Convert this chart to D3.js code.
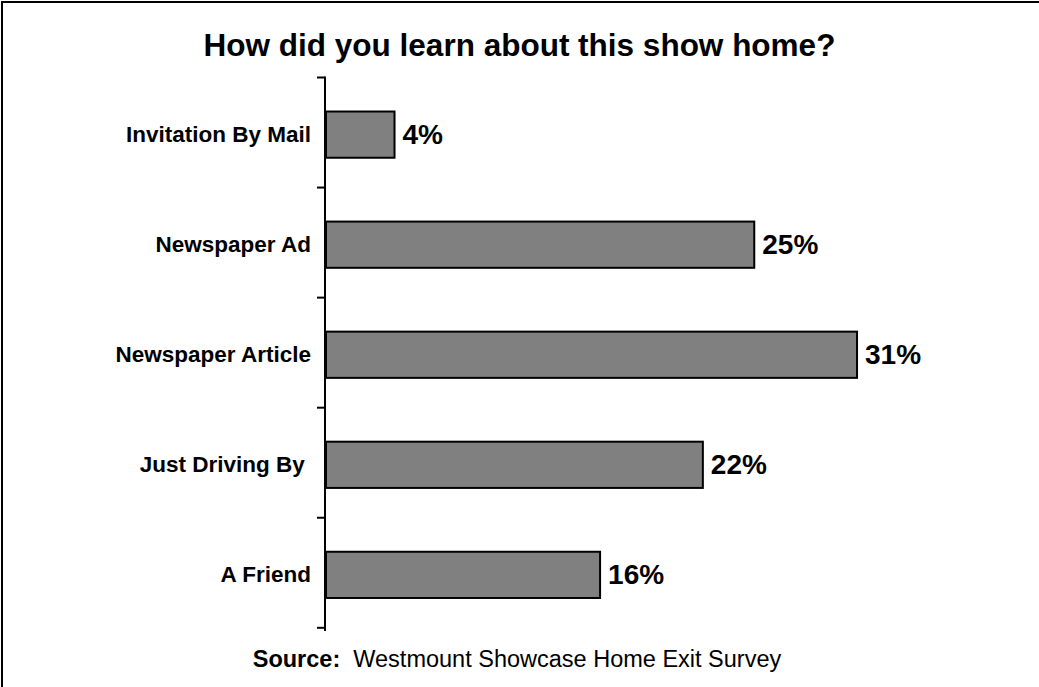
<!DOCTYPE html>
<html>
<head>
<meta charset="utf-8">
<script src="https://cdn.jsdelivr.net/npm/d3@7"></script>
<style>
  html, body { margin: 0; padding: 0; background: #fff; }
  svg { display: block; font-family: Arial, "Liberation Sans", sans-serif; }
  .tick text { white-space: pre; }
</style>
</head>
<body>
<svg id="chart" width="1039" height="687"></svg>
<script>
// Survey answers, top to bottom
const categories = ["Invitation By Mail", "Newspaper Ad", "Newspaper Article", "Just Driving By ", "A Friend"];
const values = [4, 25, 31, 22, 16];
const valueLabels = ["4%", "25%", "31%", "22%", "16%"];

const titleText = "How did you learn about this show home?";
const sourceLead = "Source:";
const sourceText = "Westmount Showcase Home Exit Survey";

const W = 1039, H = 687;
const svg = d3.select("#chart");

// frame around the whole chart
svg.append("rect")
  .attr("x", 2).attr("y", 2)
  .attr("width", W + 20).attr("height", H + 20)
  .attr("fill", "none").attr("stroke", "#000").attr("stroke-width", 2);

const axisX = 325;
const plotTop = 77.5, plotBottom = 630;

const y = d3.scaleBand()
  .domain(categories)
  .range([plotTop, plotBottom])
  .paddingInner(0.58)
  .paddingOuter(0.30);

const x = d3.scaleLinear()
  .domain([0, 35])
  .range([axisX + 1, axisX + 1 + 35 * 17.13]);

// title
svg.append("text")
  .attr("x", W / 2).attr("y", 56)
  .attr("text-anchor", "middle")
  .attr("font-size", 31.5).attr("font-weight", "bold")
  .text(titleText);

// bars
svg.append("g").selectAll("rect")
  .data(values)
  .join("rect")
  .attr("x", x(0))
  .attr("y", (d, i) => y(categories[i]) + 1)
  .attr("width", d => x(d) - x(0))
  .attr("height", y.bandwidth())
  .attr("fill", "#808080")
  .attr("stroke", "#000")
  .attr("stroke-width", 2);

// value labels
svg.append("g").selectAll("text")
  .data(values)
  .join("text")
  .attr("x", d => x(d) + 8)
  .attr("y", (d, i) => y(categories[i]) + 1 + y.bandwidth() / 2)
  .attr("dy", "0.34em")
  .attr("font-size", 28).attr("font-weight", "bold")
  .text((d, i) => valueLabels[i]);

// category axis: labels at band centres, ticks at band boundaries
const axis = d3.axisLeft(y).tickSize(0).tickPadding(14);
const gAxis = svg.append("g")
  .attr("transform", `translate(${axisX},0)`)
  .call(axis);
gAxis.select(".domain").remove();
gAxis.selectAll("text")
  .attr("font-size", 22.5).attr("font-weight", "bold")
  .attr("font-family", "Arial, 'Liberation Sans', sans-serif")
  .attr("fill", "#000")
  .attr("dy", "0.35em");

const boundaries = d3.range(categories.length + 1).map(i => plotTop + i * y.step());
svg.append("line")
  .attr("x1", axisX).attr("x2", axisX)
  .attr("y1", plotTop - 1).attr("y2", plotBottom + 1)
  .attr("stroke", "#000").attr("stroke-width", 2);
svg.append("g").selectAll("line")
  .data(boundaries)
  .join("line")
  .attr("x1", axisX - 8).attr("x2", axisX)
  .attr("y1", d => d).attr("y2", d => d)
  .attr("stroke", "#000").attr("stroke-width", 2);

// source note
const src = svg.append("text")
  .attr("x", 517).attr("y", 667)
  .attr("text-anchor", "middle")
  .attr("font-size", 23.5);
src.append("tspan").attr("font-weight", "bold").text(sourceLead);
src.append("tspan").text("\u00a0\u00a0" + sourceText);
</script>
</body>
</html>
